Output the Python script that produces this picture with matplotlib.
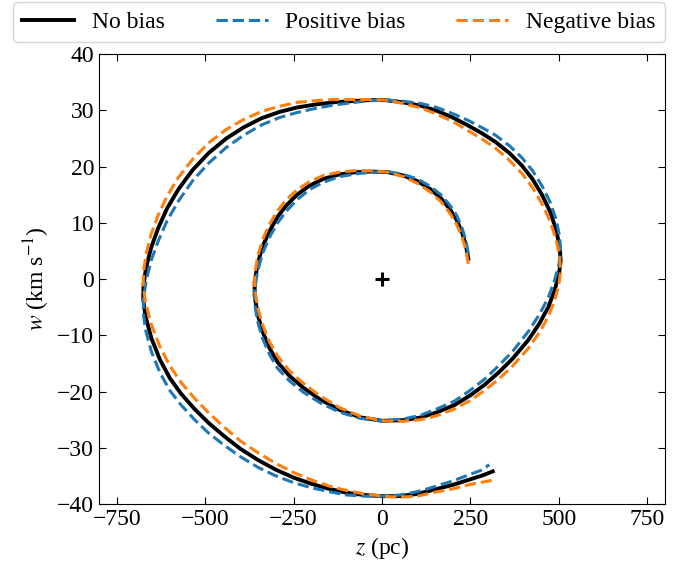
import numpy as np
import matplotlib
matplotlib.use("Agg")
import matplotlib.pyplot as plt

plt.rcParams["font.family"] = "serif"
plt.rcParams["font.serif"] = ["Liberation Serif", "DejaVu Serif"]
plt.rcParams["mathtext.fontset"] = "stix"
plt.rcParams["font.size"] = 17

# points along the spiral, inner end -> outer end
# z in pc (shared by the three curves except the last point), w in km/s
z_spiral = [244, 237, 226, 211, 192, 166, 136, 100, 60, 15, -30, -72, -120, -166,
            -205, -240, -270, -295, -320, -338, -352, -360, -360, -352, -338, -318, -295,
            -262, -223, -175, -119, -60, 0,
            60, 110, 155, 205, 249, 290, 330, 370, 414, 445, 470, 488, 500, 505, 502, 492,
            475, 452, 425, 395, 360, 320, 280, 240, 200, 155, 110, 60, 10, -40, -90, -140,
            -190, -240, -290, -340, -390, -440, -490, -535, -575, -608, -633, -653, -667,
            -674, -675, -669, -652, -628, -600, -568, -530, -490, -445, -400, -350, -300,
            -250, -200, -150, -100, -50, 0, 50, 100, 150, 200, 250, 285]
z_end_nobias = 313
z_end_pos = 303
z_end_neg = 310

w_nobias = [3.6, 6.0, 8.3, 10.5, 12.4, 14.4, 16.0, 17.4, 18.4, 19.0, 19.1, 19.0, 18.6, 17.8,
            16.6, 15.0, 13.1, 11.1, 8.3, 5.7, 2.6, -0.6, -3.0, -6.2, -9.3, -12.3, -14.8,
            -17.2, -19.3, -21.4, -23.3, -24.6, -25.2,
            -25.1, -24.6, -23.7, -22.4, -20.7, -18.8, -16.6, -14.1, -10.8, -7.9, -5.0, -2.0,
            0.8, 3.2, 5.8, 8.8, 12.0, 15.0, 17.8, 20.2, 22.4, 24.4, 26.0, 27.4, 28.7, 29.9,
            30.8, 31.4, 31.8, 31.8, 31.6, 31.4, 31.0, 30.5, 29.7, 28.6, 27.0, 25.0, 22.4,
            19.4, 16.0, 12.5, 9.0, 5.5, 2.0, -1.0, -3.5, -6.5, -10.5, -14.3, -17.6, -20.4,
            -23.1, -25.6, -28.0, -30.2, -32.2, -33.9, -35.3, -36.4, -37.3, -38.0, -38.4,
            -38.6, -38.6, -38.2, -37.4, -36.6, -35.6, -34.9, -34.2]

w_pos = [4.5, 6.9, 9.1, 11.3, 13.1, 15.0, 16.5, 17.8, 18.6, 19.1, 19.0, 18.7, 18.2, 17.2,
         15.9, 14.1, 12.1, 10.0, 7.2, 4.5, 1.3, -1.9, -4.3, -7.5, -10.5, -13.4, -15.9,
         -18.1, -20.1, -22.0, -23.7, -24.8, -25.2,
         -24.9, -24.2, -23.1, -21.7, -19.8, -17.8, -15.4, -12.8, -9.3, -6.3, -3.3, -0.2,
         2.6, 5.0, 7.6, 10.6, 13.7, 16.6, 19.3, 21.6, 23.7, 25.6, 27.0, 28.3, 29.4, 30.5,
         31.2, 31.6, 31.8, 31.7, 31.3, 30.9, 30.3, 29.6, 28.7, 27.4, 25.6, 23.4, 20.6,
         17.5, 13.9, 10.3, 6.7, 3.2, -0.4, -3.4, -5.9, -8.9, -12.9, -16.6, -19.8, -22.4,
         -25.0, -27.4, -29.6, -31.6, -33.5, -35.0, -36.2, -37.1, -37.8, -38.4, -38.6,
         -38.6, -38.4, -37.8, -36.9, -35.9, -34.7, -33.9, -33.0]

w_neg = [2.7, 5.2, 7.5, 9.7, 11.7, 13.8, 15.5, 17.0, 18.2, 19.0, 19.2, 19.3, 19.0, 18.4,
         17.3, 15.9, 14.1, 12.2, 9.5, 6.9, 3.9, 0.7, -1.7, -4.9, -8.1, -11.2, -13.7,
         -16.3, -18.5, -20.8, -22.9, -24.4, -25.2,
         -25.3, -25.0, -24.3, -23.1, -21.6, -19.8, -17.8, -15.4, -12.3, -9.5, -6.7, -3.8,
         -1.0, 1.4, 4.0, 7.0, 10.3, 13.4, 16.3, 18.8, 21.1, 23.3, 25.0, 26.5, 28.0, 29.3,
         30.4, 31.2, 31.8, 31.9, 31.9, 31.9, 31.7, 31.4, 30.7, 29.8, 28.4, 26.6, 24.2,
         21.3, 18.1, 14.7, 11.3, 7.9, 4.4, 1.4, -1.1, -4.1, -8.1, -12.0, -15.4, -18.4,
         -21.2, -23.8, -26.4, -28.8, -30.9, -32.8, -34.4, -35.7, -36.8, -37.6, -38.2,
         -38.6, -38.8, -38.6, -37.9, -37.3, -36.5, -36.1, -35.8]

fig = plt.figure(figsize=(6.88, 5.69), dpi=100)
ax = fig.add_axes([0.1439, 0.1142, 0.8227, 0.7909])

ax.plot(z_spiral + [z_end_nobias], w_nobias, color="black", lw=2.8, label="No bias")
ax.plot(z_spiral + [z_end_pos], w_pos, color="tab:blue", lw=2.2, ls="--", label="Positive bias")
ax.plot(z_spiral + [z_end_neg], w_neg, color="tab:orange", lw=2.2, ls="--", label="Negative bias")
ax.plot([0], [0], marker="+", color="black", ms=10, mew=2.2)

ax.set_xlim(-800, 800)
ax.set_ylim(-40, 40)
ax.set_xticks([-750, -500, -250, 0, 250, 500, 750])
ax.set_yticks(np.arange(-40, 41, 10))
ax.tick_params(direction="in", top=True, right=True, length=5, labelsize=17)
ax.set_xlabel("$z$ (pc)", fontsize=17)
ax.set_ylabel("$w$ (km s$^{-1}$)", fontsize=17)

fig.legend(loc="upper center", bbox_to_anchor=(0.4927, 0.9965), ncol=3, fontsize=17,
           handlelength=2.2, handletextpad=0.75, columnspacing=2.15, borderaxespad=0)

fig.savefig("out.png", dpi=100)
